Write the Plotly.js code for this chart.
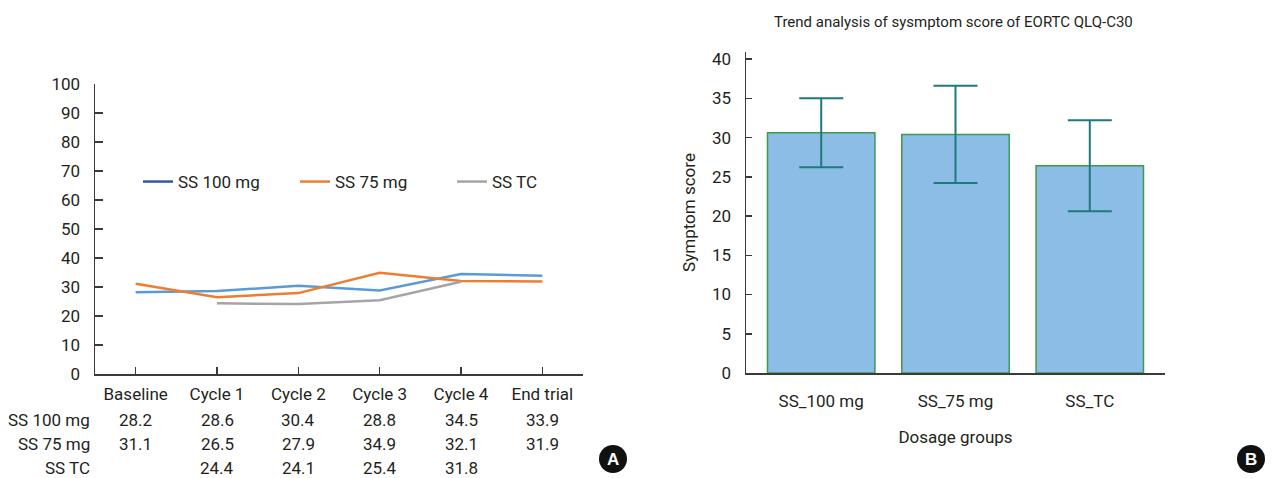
<!DOCTYPE html>
<html><head><meta charset="utf-8">
<script src="https://cdn.plot.ly/plotly-3.0.1.min.js"></script>
<style>html,body{margin:0;padding:0;background:#fff}#chart{width:1275px;height:478px}</style>
</head><body><div id="chart"></div>
<script>
// ---- Data: panel A ----
const timepoints = ["Baseline", "Cycle 1", "Cycle 2", "Cycle 3", "Cycle 4", "End trial"];
const ss100 = [28.2, 28.6, 30.4, 28.8, 34.5, 33.9];
const ss75  = [31.1, 26.5, 27.9, 34.9, 32.1, 31.9];
const sstc  = [null, 24.4, 24.1, 25.4, 31.8, null];
const seriesNames = ["SS 100 mg", "SS 75 mg", "SS TC"];
// ---- Data: panel B ----
const groups = ["SS_100 mg", "SS_75 mg", "SS_TC"];
const meanScore = [30.6, 30.4, 26.4];
const errScore = [4.4, 6.2, 5.8];

const W = 1275, H = 478;
const FONT = "'Roboto', 'Noto Sans', sans-serif";
const TXT = "#231f20";
const px = v => v / W, py = v => 1 - v / H;

const lineColors = ["#5b9bd5", "#ed7d31", "#a5a5a5"];
const legendColors = ["#2e5aa8", "#ed7d31", "#a5a5a5"];
const seriesData = [ss100, ss75, sstc];

const traces = [];
seriesData.forEach((d, i) => {
  traces.push({type: "scatter", mode: "lines", x: timepoints, y: d, xaxis: "x", yaxis: "y",
    line: {color: lineColors[i], width: 2.5}, showlegend: false, hoverinfo: "skip"});
});
seriesNames.forEach((n, i) => {
  traces.push({type: "scatter", mode: "lines", x: [null], y: [null], xaxis: "x", yaxis: "y",
    name: n, line: {color: legendColors[i], width: 2.5}, showlegend: true});
});
traces.push({type: "bar", x: groups, y: meanScore, xaxis: "x2", yaxis: "y2", width: 0.8,
  marker: {color: "#8bbde6", line: {color: "#3e9a4e", width: 1.5}},
  error_y: {type: "data", array: errScore, visible: true, color: "#20797a", thickness: 2, width: 22},
  showlegend: false});

const annotations = [];
const rowY = [420, 444, 468];
const rowLabels = seriesNames;
seriesData.forEach((d, r) => {
  annotations.push({xref: "paper", yref: "paper", x: px(92), y: py(rowY[r]), xanchor: "right", yanchor: "middle",
    text: rowLabels[r], showarrow: false, font: {family: FONT, size: 17, color: TXT}});
  d.forEach((v, i) => {
    if (v === null) return;
    annotations.push({xref: "x", yref: "paper", x: timepoints[i], y: py(rowY[r]), xanchor: "center", yanchor: "middle",
      text: v.toFixed(1), showarrow: false, font: {family: FONT, size: 17, color: TXT}});
  });
});
// Panel letters
[["A", 613], ["B", 1251]].forEach(([t, cx]) => {
  annotations.push({xref: "paper", yref: "paper", x: px(cx), y: py(459), xanchor: "center", yanchor: "middle",
    text: "<b>" + t + "</b>", showarrow: false, font: {family: "'Liberation Sans', Arial, sans-serif", size: 17, color: "#fff"}});
});
const shapes = [
  {type: "circle", xref: "paper", yref: "paper", x0: px(599), x1: px(627), y0: py(445), y1: py(473), fillcolor: "#111", line: {width: 0}},
  {type: "circle", xref: "paper", yref: "paper", x0: px(1237), x1: px(1265), y0: py(445), y1: py(473), fillcolor: "#111", line: {width: 0}}
];

const axisBase = {showgrid: false, zeroline: false, showline: true, linecolor: "#3a3a3a", linewidth: 1.5,
  tickcolor: "#3a3a3a", tickfont: {family: FONT, size: 17, color: TXT}, fixedrange: true};

const layout = {
  width: W, height: H, margin: {l: 0, r: 0, t: 0, b: 0}, paper_bgcolor: "#fff", plot_bgcolor: "rgba(0,0,0,0)",
  font: {family: FONT, color: TXT},
  xaxis: Object.assign({}, axisBase, {domain: [px(95), px(583)], range: [-0.5, 5.5], type: "category",
    ticks: "inside", ticklen: 7, tickwidth: 1.5, anchor: "y", ticklabelstandoff: 4}),
  yaxis: Object.assign({}, axisBase, {domain: [py(374), py(84)], range: [0, 100], dtick: 10,
    ticks: "inside", ticklen: 8, tickwidth: 1.5, anchor: "x", ticklabelstandoff: 10}),
  xaxis2: Object.assign({}, axisBase, {domain: [px(746), px(1165)], range: [-0.56, 2.56], type: "category",
    ticks: "", anchor: "y2", ticklabelstandoff: 12,
    title: {text: "Dosage groups", font: {family: FONT, size: 17, color: TXT}, standoff: 21}}),
  yaxis2: Object.assign({}, axisBase, {domain: [py(373), py(52)], range: [0, 40.9], dtick: 5,
    ticks: "inside", ticklen: 6, tickwidth: 1.5, anchor: "x2", ticklabelstandoff: 10,
    title: {text: "Symptom score", font: {family: FONT, size: 17, color: TXT}, standoff: 12}}),
  legend: {orientation: "h", x: px(138), y: py(182), xanchor: "left", yanchor: "middle", entrywidth: 112,
    font: {family: FONT, size: 17, color: TXT}, bgcolor: "rgba(0,0,0,0)", itemwidth: 30},
  annotations: annotations.concat([{xref: "paper", yref: "paper", x: px(953), y: py(22), xanchor: "center", yanchor: "middle",
    text: "Trend analysis of sysmptom score of EORTC QLQ-C30", showarrow: false, font: {family: FONT, size: 15, color: TXT}}]),
  shapes: shapes
};

Plotly.newPlot("chart", traces, layout, {displayModeBar: false, staticPlot: true});
</script></body></html>
